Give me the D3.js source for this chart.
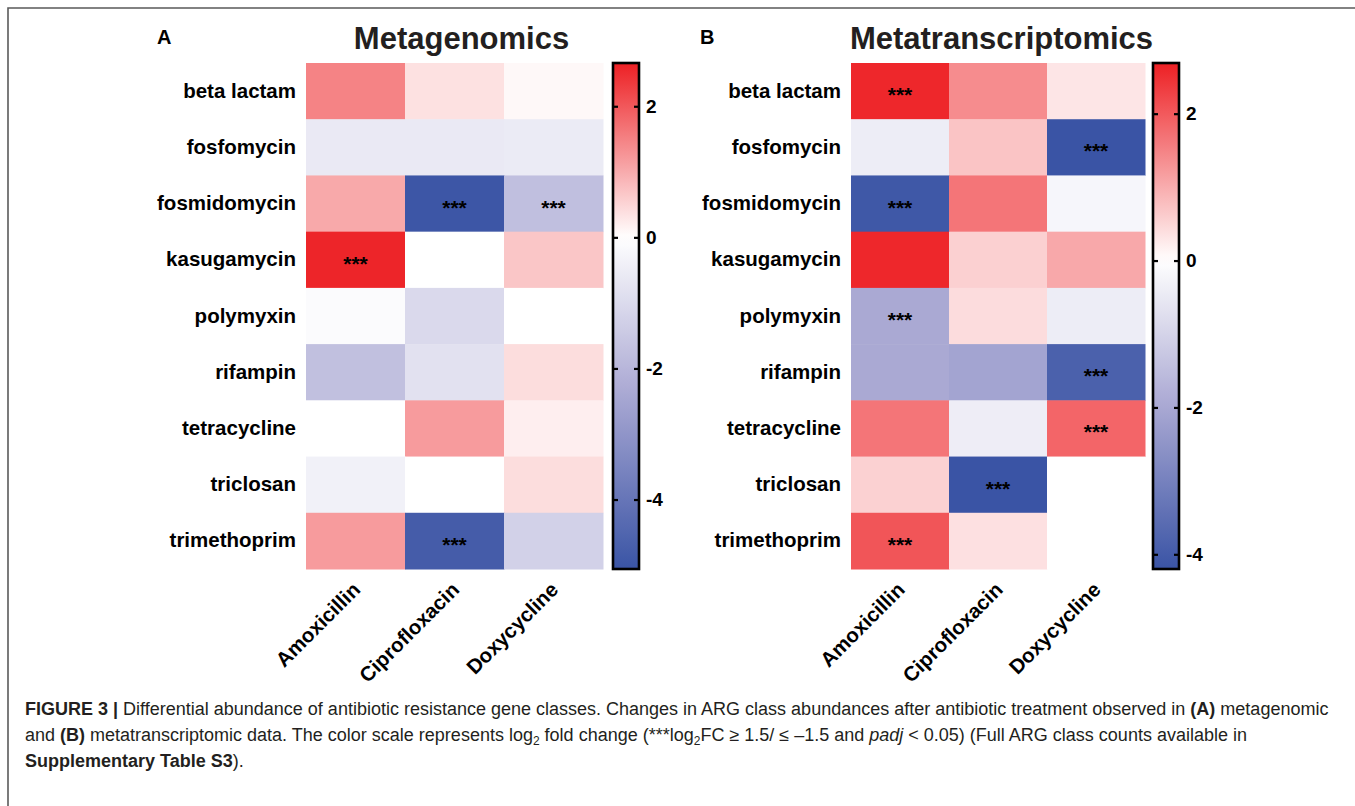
<!DOCTYPE html>
<html>
<head>
<meta charset="utf-8">
<script src="https://cdn.jsdelivr.net/npm/d3@7"></script>
<style>
  body { margin: 0; background: #fff; }
  svg { display: block; font-family: "Liberation Sans", Arial, sans-serif; }
</style>
</head>
<body>
<svg id="fig" width="1355" height="806"></svg>
<script>
// --- data (log2 fold change) ---
const drugs = ['Amoxicillin', 'Ciprofloxacin', 'Doxycycline'];
const argClasses = ['beta lactam', 'fosfomycin', 'fosmidomycin', 'kasugamycin', 'polymyxin',
  'rifampin', 'tetracycline', 'triclosan', 'trimethoprim'];

// rows follow argClasses, columns follow drugs
const metagenomicFC = [
  [1.48, 0.36, 0.08],
  [-0.60, -0.60, -0.55],
  [1.03, -5.0, -1.76],
  [2.6, 0.0, 0.68],
  [-0.10, -1.05, 0.0],
  [-1.73, -0.82, 0.41],
  [0.0, 1.19, 0.20],
  [-0.38, 0.0, 0.41],
  [1.19, -4.8, -1.26]
];
const metagenomicSig = [
  [0, 0, 0], [0, 0, 0], [0, 1, 1], [1, 0, 0], [0, 0, 0],
  [0, 0, 0], [0, 0, 0], [0, 0, 0], [0, 1, 0]
];

const metatranscriptomicFC = [
  [2.6, 1.39, 0.31],
  [-0.41, 0.71, -4.2],
  [-4.1, 1.66, -0.20],
  [2.6, 0.57, 1.05],
  [-1.97, 0.42, -0.41],
  [-1.97, -2.1, -3.87],
  [1.66, -0.40, 1.86],
  [0.55, -4.2, 0.0],
  [2.05, 0.37, 0.0]
];
const metatranscriptomicSig = [
  [1, 0, 0], [0, 0, 1], [1, 0, 0], [0, 0, 0], [1, 0, 0],
  [0, 0, 1], [0, 0, 1], [0, 1, 0], [1, 0, 0]
];

const colorbarTicks = [2, 0, -2, -4];
const metagenomicRange = [-5.06, 2.66];
const metatranscriptomicRange = [-4.2, 2.69];

const svg = d3.select('#fig');

// frame (top + left rule)
svg.append('path')
  .attr('d', 'M8,806 L8,8 L1355,8')
  .attr('fill', 'none')
  .attr('stroke', '#5a5a5a')
  .attr('stroke-width', 1.6);

function makeColor(range) {
  const lo = range[0], hi = range[1];
  return d3.scaleLinear()
    .domain([lo, lo * 0.45, 0, hi])
    .range(['#3a54a5', '#aeacd5', '#ffffff', '#ed2024'])
    .clamp(true);
}

function drawPanel(opts) {
  const g = svg.append('g');
  const color = makeColor(opts.range);

  const x = d3.scaleBand().domain(drugs).range([opts.left, opts.right]);
  const y = d3.scaleBand().domain(argClasses).range([opts.top, opts.bottom]);

  // panel letter and title
  g.append('text')
    .attr('x', opts.letterX).attr('y', 44)
    .attr('font-size', 20).attr('font-weight', 'bold')
    .text(opts.letter);
  g.append('text')
    .attr('x', opts.titleX).attr('y', 49)
    .attr('text-anchor', 'middle')
    .attr('font-size', 31).attr('font-weight', 'bold')
    .attr('fill', '#231f20')
    .text(opts.title);

  // cells
  const cells = [];
  argClasses.forEach((c, i) => {
    drugs.forEach((d, j) => {
      cells.push({ cls: c, drug: d, v: opts.values[i][j], sig: opts.sig[i][j] });
    });
  });

  g.selectAll('.cell')
    .data(cells)
    .enter().append('rect')
    .attr('class', 'cell')
    .attr('x', d => x(d.drug))
    .attr('y', d => y(d.cls))
    .attr('width', x.bandwidth() + 0.5)
    .attr('height', y.bandwidth() + 0.5)
    .attr('fill', d => color(d.v));

  g.selectAll('.star')
    .data(cells.filter(d => d.sig))
    .enter().append('text')
    .attr('class', 'star')
    .attr('x', d => x(d.drug) + x.bandwidth() / 2)
    .attr('y', d => y(d.cls) + y.bandwidth() / 2 + 11)
    .attr('text-anchor', 'middle')
    .attr('font-size', 21).attr('font-weight', 'bold')
    .text('***');

  // row labels
  const rowAxis = g.append('g')
    .attr('transform', 'translate(' + opts.left + ',0)')
    .call(d3.axisLeft(y).tickSize(0).tickPadding(opts.left - opts.labelRight));
  rowAxis.select('.domain').remove();
  rowAxis.selectAll('text')
    .attr('font-family', '"Liberation Sans", Arial, sans-serif')
    .attr('font-size', 20.5).attr('font-weight', 'bold')
    .attr('fill', '#000');

  // column labels, rotated
  g.selectAll('.collab')
    .data(drugs)
    .enter().append('text')
    .attr('class', 'collab')
    .attr('transform', d => 'translate(' + (x(d) + x.bandwidth() / 2 + 6) + ',' + (opts.bottom + 22) + ') rotate(-45)')
    .attr('text-anchor', 'end')
    .attr('font-size', 20.5).attr('font-weight', 'bold')
    .text(d => d);

  // colour bar
  const cb = opts.colorbar;
  const yc = d3.scaleLinear().domain(opts.range).range([opts.bottom, opts.top]);
  const gradId = 'grad' + opts.letter;
  const grad = svg.append('defs').append('linearGradient')
    .attr('id', gradId)
    .attr('x1', 0).attr('y1', 1).attr('x2', 0).attr('y2', 0);
  d3.range(0, 1.0001, 0.02).forEach(t => {
    const v = opts.range[0] + t * (opts.range[1] - opts.range[0]);
    grad.append('stop').attr('offset', t).attr('stop-color', color(v));
  });

  g.append('rect')
    .attr('x', cb[0]).attr('y', opts.top)
    .attr('width', cb[1] - cb[0]).attr('height', opts.bottom - opts.top)
    .attr('fill', 'url(#' + gradId + ')')
    .attr('stroke', '#000').attr('stroke-width', 2.6);

  // inner tick marks on both sides of the bar
  const tickL = g.append('g')
    .attr('transform', 'translate(' + cb[0] + ',0)')
    .call(d3.axisRight(yc).tickValues(colorbarTicks).tickSize(5).tickFormat(''));
  const tickR = g.append('g')
    .attr('transform', 'translate(' + cb[1] + ',0)')
    .call(d3.axisLeft(yc).tickValues(colorbarTicks).tickSize(5).tickFormat(''));
  [tickL, tickR].forEach(a => {
    a.select('.domain').remove();
    a.selectAll('line').attr('stroke', '#000').attr('stroke-width', 2.2);
  });

  const cbLabels = g.append('g')
    .attr('transform', 'translate(' + cb[1] + ',0)')
    .call(d3.axisRight(yc).tickValues(colorbarTicks).tickSize(0).tickPadding(7)
      .tickFormat(d => d < 0 ? '-' + Math.abs(d) : d));
  cbLabels.select('.domain').remove();
  cbLabels.selectAll('text')
    .attr('font-family', '"Liberation Sans", Arial, sans-serif')
    .attr('font-size', 19).attr('font-weight', 'bold')
    .attr('fill', '#000');
}

drawPanel({
  letter: 'A', letterX: 157, title: 'Metagenomics', titleX: 461.5,
  left: 306, right: 603, top: 63, bottom: 569, labelRight: 296,
  colorbar: [613, 639],
  range: metagenomicRange, values: metagenomicFC, sig: metagenomicSig
});

drawPanel({
  letter: 'B', letterX: 700, title: 'Metatranscriptomics', titleX: 1001.5,
  left: 851, right: 1145, top: 63, bottom: 569, labelRight: 841,
  colorbar: [1153, 1179],
  range: metatranscriptomicRange, values: metatranscriptomicFC, sig: metatranscriptomicSig
});

// caption
const cap = svg.append('g')
  .attr('font-size', 18)
  .attr('fill', '#231f20');

const line1 = cap.append('text').attr('x', 25).attr('y', 715);
line1.append('tspan').attr('font-weight', 'bold').text('FIGURE 3 | ');
line1.append('tspan').text('Differential abundance of antibiotic resistance gene classes. Changes in ARG class abundances after antibiotic treatment observed in ');
line1.append('tspan').attr('font-weight', 'bold').text('(A)');
line1.append('tspan').text(' metagenomic');

const line2 = cap.append('text').attr('x', 25).attr('y', 741);
line2.append('tspan').text('and ');
line2.append('tspan').attr('font-weight', 'bold').text('(B)');
line2.append('tspan').text(' metatranscriptomic data. The color scale represents log');
line2.append('tspan').attr('font-size', 12).attr('dy', 4).text('2');
line2.append('tspan').attr('dy', -4).text(' fold change (***log');
line2.append('tspan').attr('font-size', 12).attr('dy', 4).text('2');
line2.append('tspan').attr('dy', -4).text('FC \u2265 1.5/ \u2264 \u20131.5 and ');
line2.append('tspan').attr('font-style', 'italic').text('padj');
line2.append('tspan').text(' < 0.05) (Full ARG class counts available in');

const line3 = cap.append('text').attr('x', 25).attr('y', 767);
line3.append('tspan').attr('font-weight', 'bold').text('Supplementary Table S3');
line3.append('tspan').text(').');
</script>
</body>
</html>
